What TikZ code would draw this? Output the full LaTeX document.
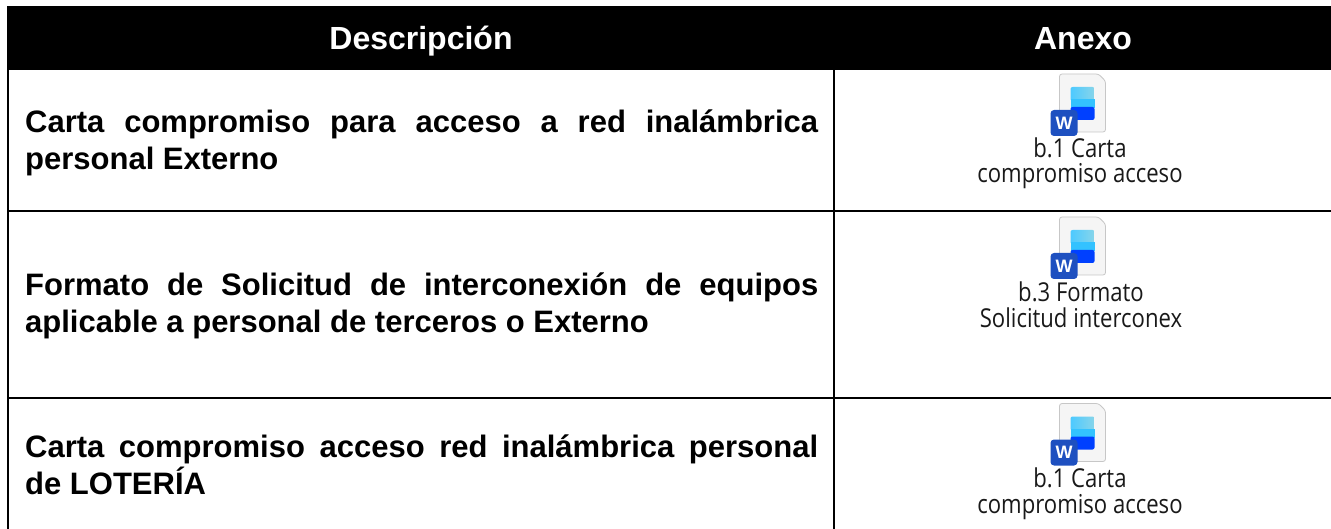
\documentclass[tikz,border=0pt]{standalone}
\usepackage{fontspec}
\setmainfont{Liberation Sans}
\newfontfamily\capfont{Open Sans}[FakeStretch=0.85]
\usetikzlibrary{calc}
\definecolor{pagegray}{HTML}{F5F5F5}
\definecolor{wordblue}{HTML}{1E50C0}
\tikzset{x=1pt,y=-1pt,
 rule/.style={line width=2pt,black},
 headtxt/.style={text=white,font=\fontsize{32}{36}\selectfont\bfseries,anchor=base},
 desctxt/.style={font=\fontsize{31}{37}\selectfont\bfseries,anchor=base west,align=justify,text width=793pt,inner sep=0pt},
 captxt/.style={font=\capfont\fontsize{26}{25.5}\selectfont,align=center,inner sep=0pt,anchor=base,text=black!90}}
\newcommand{\wordicon}[1]{%
 \begin{scope}[shift={(#1)}]
 \draw[draw=black!22,fill=pagegray,rounded corners=2.5pt,line width=.8pt] (-23,0) -- (16,0) -- (23,7) -- (23,58) -- (-23,58) -- cycle;
 \shade[left color=cyan!70!blue!70,right color=violet!30!cyan!55,rounded corners=2pt] (-12,13) rectangle (12,27);
 \fill[blue!30!cyan!80!white] (-12,25) rectangle (12,34);
 \fill[blue!75!cyan,rounded corners=2pt] (-12,33) rectangle (12,46);
 \fill[wordblue,rounded corners=3.5pt] (-32,36) rectangle (-5,62);
 \node[text=white,font=\fontsize{18}{18}\selectfont\bfseries,inner sep=0pt] at (-18.5,49) {W};
 \end{scope}}
\begin{document}
\begin{tikzpicture}
\useasboundingbox (0,0) rectangle (1331,529);
\fill[white] (0,0) rectangle (1331,529);
\fill[black] (7,6) rectangle (1331,70);
\node[headtxt] (h1) at (421,50) {Descripción};
\node[headtxt] (h2) at (1083,50) {Anexo};
\draw[rule] (8,70) -- (8,529);
\draw[rule] (834,70) -- (834,529);
\draw[rule] (8,211) -- (1331,211);
\draw[rule] (8,398) -- (1331,398);
\node[desctxt] (d1) at (25,133) {Carta compromiso para acceso a red inalámbrica\linebreak personal Externo};
\node[desctxt] (d2) at (25,296) {Formato de Solicitud de interconexión de equipos\linebreak aplicable a personal de terceros o Externo};
\node[desctxt] (d3) at (25,457) {Carta compromiso acceso red inalámbrica personal\linebreak de LOTERÍA};
\wordicon{1082.5,74}
\wordicon{1082.5,217}
\wordicon{1082.5,403.5}
\node[captxt] (c1) at (1080,183) {b.1 Carta\\compromiso acceso};
\node[captxt] (c2) at (1081,327) {b.3 Formato\\Solicitud interconex};
\node[captxt] (c3) at (1080,513) {b.1 Carta\\compromiso acceso};
\end{tikzpicture}
\end{document}
